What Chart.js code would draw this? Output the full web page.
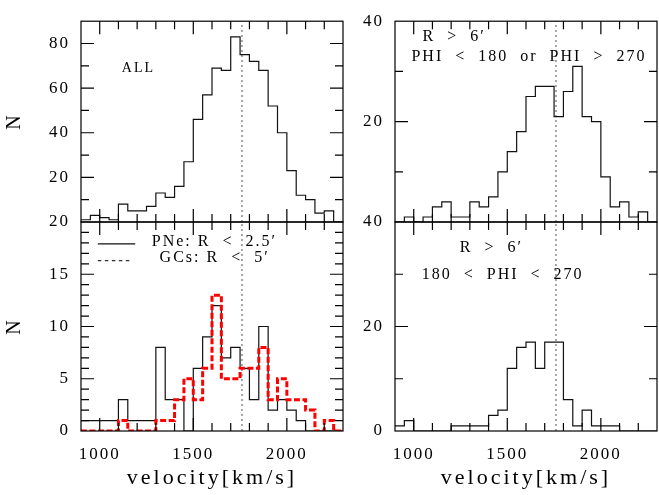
<!DOCTYPE html>
<html lang="en">
  <head>
    <meta charset="UTF-8" />
    <title>Velocity histograms</title>
    <script src="https://cdn.jsdelivr.net/npm/chart.js"></script>
    <style>
      body {
        margin: 0;
        background: #ffffff;
      }
      #wrap {
        position: relative;
        width: 659px;
        height: 495px;
      }
      #wrap canvas {
        position: absolute;
        left: 0;
        top: 0;
      }
    </style>
  </head>
  <body>
    <div id="wrap">
      <canvas id="panelAll" width="659" height="495"></canvas>
      <canvas id="panelInner" width="659" height="495"></canvas>
      <canvas id="panelNorth" width="659" height="495"></canvas>
      <canvas id="panelSouth" width="659" height="495"></canvas>
    </div>
    <script>
      // bin edges, 50 km/s wide
      const velocityEdges = [
        900, 950, 1000, 1050, 1100, 1150, 1200, 1250, 1300, 1350, 1400, 1450,
        1500, 1550, 1600, 1650, 1700, 1750, 1800, 1850, 1900, 1950, 2000, 2050,
        2100, 2150, 2200, 2250, 2300,
      ];

      // counts per bin (one per left edge)
      const countsAll = [1, 3, 2, 1, 8, 5, 5, 7, 13, 11, 16, 27, 46, 57, 69, 68, 83, 75, 72, 68, 52, 40, 23, 12, 10, 4, 5, 0];
      const countsPNe = [1, 1, 1, 1, 3, 1, 1, 1, 8, 3, 3, 0, 6, 9, 12, 7, 8, 6, 3, 10, 2, 3, 2, 1, 0, 0, 0, 0];
      const countsGCs = [0, 0, 0, 0, 1, 0, 0, 0, 1, 1, 3, 5, 3, 6, 13, 5, 5, 6, 6, 8, 3, 5, 3, 3, 2, 0, 1, 0];
      const countsNorth = [0, 1, 0, 1, 3, 4, 1, 1, 4, 3, 5, 10, 14, 18, 25, 27, 27, 21, 26, 31, 21, 20, 9, 3, 4, 1, 2, 0];
      const countsSouth = [1, 2, 0, 0, 0, 0, 1, 1, 1, 1, 3, 4, 12, 16, 17, 12, 17, 17, 6, 1, 4, 1, 1, 1, 0, 0, 0, 0];

      const systemicVelocity = 1760;

      // tick labels and tick marks
      const xTickLabels = [1000, 1500, 2000];
      const xMinorTicks = [1100, 1200, 1300, 1400, 1600, 1700, 1800, 1900, 2100, 2200];
      const yLabelsAll = [20, 40, 60, 80];
      const yMinorAll = [10, 30, 50, 70];
      const yLabelsInner = [0, 5, 10, 15, 20];
      const yMinorInner = [1, 2, 3, 4, 6, 7, 8, 9, 11, 12, 13, 14, 16, 17, 18, 19];
      const yLabelsNorth = [20, 40];
      const yLabelsSouth = [0, 20, 40];
      const yMinorOuter = [10, 30];

      Chart.defaults.font.family = '"Liberation Serif", "DejaVu Serif", serif';
      Chart.defaults.color = "#000";

      const steps = (counts) =>
        velocityEdges.map((v, i) => ({ x: v, y: counts[Math.min(i, counts.length - 1)] }));

      const histLine = (counts) => ({
        data: steps(counts),
        stepped: true,
        borderColor: "#111",
        borderWidth: 1.2,
        pointRadius: 0,
        fill: false,
      });

      const systemicLine = (top) => ({
        data: [
          { x: systemicVelocity, y: 0 },
          { x: systemicVelocity, y: top },
        ],
        borderColor: "#8a8a8a",
        borderWidth: 1.5,
        borderDash: [2, 3],
        pointRadius: 0,
        fill: false,
      });

      // frame with inward ticks, notes and key lines
      const pgFrame = {
        id: "pgFrame",
        afterUpdate(chart) {
          const sx = chart.scales.x;
          if (sx && !sx._spaced) {
            const orig = sx.drawTitle;
            sx.drawTitle = function () {
              const c = this.ctx;
              const prev = c.letterSpacing;
              c.letterSpacing = "3px";
              orig.apply(this, arguments);
              c.letterSpacing = prev;
            };
            sx._spaced = true;
          }
        },
        beforeDraw(chart) {
          chart.ctx.letterSpacing = "2px";
        },
        afterDatasetsDraw(chart, args, opts) {
          const { ctx, chartArea: a } = chart;
          const x = chart.scales.x;
          const y = chart.scales.y;
          ctx.save();
          ctx.strokeStyle = "#000";
          ctx.lineWidth = 1.2;
          ctx.setLineDash([]);
          ctx.strokeRect(a.left, a.top, a.right - a.left, a.bottom - a.top);

          ctx.beginPath();
          const xt = (vals, len) =>
            vals.forEach((v) => {
              const px = x.getPixelForValue(v);
              ctx.moveTo(px, a.bottom);
              ctx.lineTo(px, a.bottom - len);
              ctx.moveTo(px, a.top);
              ctx.lineTo(px, a.top + len);
            });
          const yt = (vals, len) =>
            vals.forEach((v) => {
              const py = y.getPixelForValue(v);
              ctx.moveTo(a.left, py);
              ctx.lineTo(a.left + len, py);
              ctx.moveTo(a.right, py);
              ctx.lineTo(a.right - len, py);
            });
          xt(xTickLabels, 13);
          xt(xMinorTicks, 8);
          yt(opts.yMajor || [], 13);
          yt(opts.yMinor || [], 8);
          ctx.stroke();

          (opts.keys || []).forEach((k) => {
            ctx.strokeStyle = k.color;
            ctx.lineWidth = 1.2;
            ctx.setLineDash(k.dash);
            ctx.beginPath();
            ctx.moveTo(x.getPixelForValue(k.x0), y.getPixelForValue(k.y));
            ctx.lineTo(x.getPixelForValue(k.x1), y.getPixelForValue(k.y));
            ctx.stroke();
          });

          ctx.fillStyle = "#000";
          ctx.textAlign = "left";
          ctx.textBaseline = "middle";
          ctx.letterSpacing = "2px";
          (opts.notes || []).forEach((n) => {
            ctx.font = (n.size || 16) + 'px "Liberation Serif", "DejaVu Serif", serif';
            ctx.fillText(n.text, x.getPixelForValue(n.x), y.getPixelForValue(n.y));
          });
          ctx.restore();
        },
      };

      function makePanel(id, cfg) {
        const xScale = {
          type: "linear",
          min: 900,
          max: 2300,
          display: cfg.showX,
          afterBuildTicks: (s) => {
            s.ticks = xTickLabels.map((v) => ({ value: v }));
          },
          ticks: {
            font: { size: 17 },
            padding: 13,
            maxRotation: 0,
            autoSkip: false,
            callback: (v) => String(v),
          },
          grid: { display: false, drawTicks: false },
          border: { display: false },
          title: {
            display: true,
            text: "velocity[km/s]",
            font: { size: 22 },
            padding: { top: 0, bottom: 4 },
          },
          afterFit: (s) => {
            s.height = cfg.showX ? 64 : 0;
          },
        };
        const yScale = {
          type: "linear",
          min: 0,
          max: cfg.yMax,
          afterBuildTicks: (s) => {
            s.ticks = cfg.yLabels.map((v) => ({ value: v }));
          },
          ticks: { font: { size: 17 }, padding: 11, callback: (v) => String(v) },
          grid: { display: false, drawTicks: false },
          border: { display: false },
          title: {
            display: cfg.yTitle,
            text: "N",
            font: { size: 20 },
            padding: { top: 3, bottom: 0 },
          },
          afterFit: (s) => {
            s.width = cfg.yWidth;
          },
        };
        return new Chart(document.getElementById(id), {
          type: "line",
          data: { datasets: cfg.datasets },
          options: {
            responsive: false,
            animation: false,
            layout: { padding: cfg.padding },
            plugins: {
              legend: { display: false },
              tooltip: { enabled: false },
              pgFrame: cfg.frame,
            },
            scales: { x: xScale, y: yScale },
          },
          plugins: [pgFrame],
        });
      }

      // top left: all
      makePanel("panelAll", {
        showX: false,
        yMax: 90,
        yLabels: yLabelsAll,
        yTitle: true,
        yWidth: 81,
        padding: { left: 0, top: 13, right: 316, bottom: 273 },
        datasets: [histLine(countsAll), systemicLine(90)],
        frame: {
          yMajor: yLabelsAll,
          yMinor: yMinorAll,
          notes: [{ text: "ALL", x: 1118, y: 69, size: 14 }],
        },
      });

      // bottom left: inner PNe and GCs
      makePanel("panelInner", {
        showX: true,
        yMax: 20,
        yLabels: yLabelsInner,
        yTitle: true,
        yWidth: 81,
        padding: { left: 0, top: 222, right: 316, bottom: 0 },
        datasets: [
          {
            data: steps(countsGCs),
            stepped: true,
            borderColor: "#ff0000",
            borderWidth: 3,
            borderDash: [6, 2.5],
            pointRadius: 0,
            fill: false,
          },
          histLine(countsPNe),
          systemicLine(20),
        ],
        frame: {
          yMajor: [5, 10, 15],
          yMinor: yMinorInner,
          keys: [
            { x0: 990, x1: 1190, y: 17.9, dash: [], color: "#111" },
            { x0: 990, x1: 1165, y: 16.3, dash: [3.5, 3.5], color: "#333" },
          ],
          notes: [
            { text: "PNe: R  <  2.5\u2032", x: 1278, y: 18.1 },
            { text: "GCs: R  <  5\u2032", x: 1320, y: 16.6 },
          ],
        },
      });

      // top right: outer, PHI < 180 or PHI > 270
      makePanel("panelNorth", {
        showX: false,
        yMax: 40,
        yLabels: yLabelsNorth,
        yTitle: false,
        yWidth: 60,
        padding: { left: 335, top: 13, right: 2, bottom: 273 },
        datasets: [histLine(countsNorth), systemicLine(40)],
        frame: {
          yMajor: [20],
          yMinor: yMinorOuter,
          notes: [
            { text: "R  >  6\u2032", x: 1047, y: 36.9 },
            { text: "PHI  <  180  or  PHI  >  270", x: 988, y: 32.9 },
          ],
        },
      });

      // bottom right: outer, 180 < PHI < 270
      makePanel("panelSouth", {
        showX: true,
        yMax: 40,
        yLabels: yLabelsSouth,
        yTitle: false,
        yWidth: 60,
        padding: { left: 335, top: 222, right: 2, bottom: 0 },
        datasets: [histLine(countsSouth), systemicLine(40)],
        frame: {
          yMajor: [20],
          yMinor: yMinorOuter,
          notes: [
            { text: "R  >  6\u2032", x: 1246, y: 35 },
            { text: "180  <  PHI  <  270", x: 1043, y: 29.9 },
          ],
        },
      });
    </script>
  </body>
</html>
